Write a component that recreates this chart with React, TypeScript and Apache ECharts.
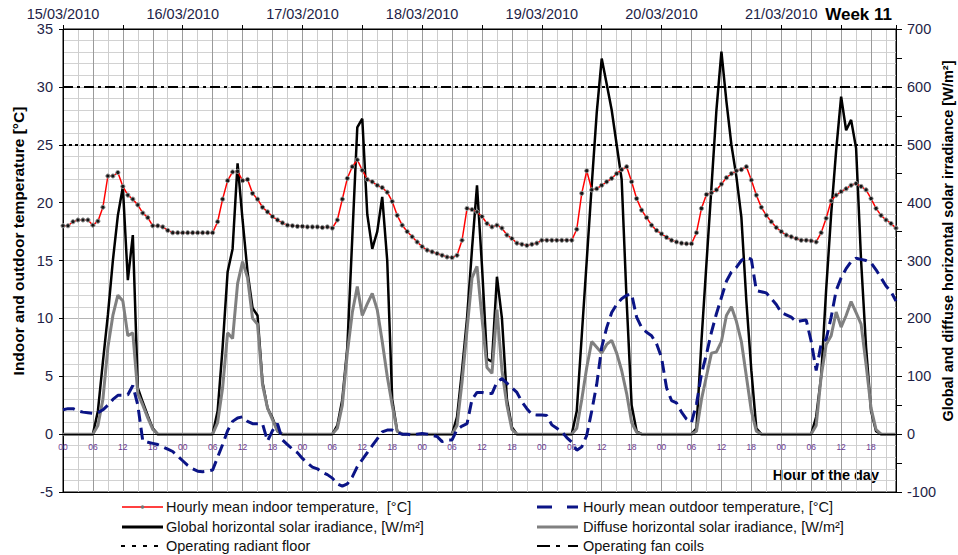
import React, { useEffect, useRef } from 'react';
import * as echarts from 'echarts';

// ---- Data (hourly values, index = hour since 15/03/2010 00:00) ----
const DATES = ['15/03/2010', '16/03/2010', '17/03/2010', '18/03/2010', '19/03/2010', '20/03/2010', '21/03/2010'];

const INDOOR_TEMP = [
  18.0, 18.0, 18.35, 18.5, 18.5, 18.5, 18.05, 18.4, 19.6, 22.3, 22.3, 22.6, 21.4, 20.65, 20.3, 19.8, 19.1, 18.7, 18.0, 18.0, 17.9, 17.6, 17.4, 17.4,
  17.4, 17.4, 17.4, 17.4, 17.4, 17.4, 17.4, 18.35, 20.3, 21.9, 22.65, 22.7, 21.9, 22.0, 20.8, 20.3, 19.6, 19.2, 18.8, 18.5, 18.25, 18.05, 18.0, 17.95,
  17.95, 17.9, 17.9, 17.9, 17.85, 17.9, 17.8, 18.5, 20.3, 22.1, 23.1, 23.7, 22.8, 22.0, 21.8, 21.5, 21.3, 20.9, 20.1, 18.9, 18.05, 17.5, 17.05, 16.6,
  16.2, 15.9, 15.75, 15.6, 15.45, 15.3, 15.25, 15.45, 16.75, 19.5, 19.4, 19.2, 18.8, 18.2, 17.9, 18.05, 17.8, 17.2, 16.9, 16.5, 16.4, 16.3, 16.4, 16.5,
  16.75, 16.75, 16.75, 16.75, 16.75, 16.75, 16.75, 17.7, 20.8, 22.75, 21.1, 21.2, 21.5, 21.8, 22.1, 22.5, 22.85, 23.1, 21.8, 20.35, 19.35, 18.7, 18.05, 17.6,
  17.3, 17.0, 16.75, 16.6, 16.5, 16.45, 16.45, 17.4, 19.5, 20.7, 20.85, 21.1, 21.6, 22.15, 22.5, 22.75, 22.85, 23.1, 21.95, 20.65, 19.6, 18.9, 18.35, 17.85,
  17.5, 17.2, 17.05, 16.9, 16.75, 16.75, 16.7, 16.6, 17.4, 18.65, 20.15, 20.65, 20.95, 21.2, 21.5, 21.65, 21.4, 21.1, 20.35, 19.5, 18.9, 18.5, 18.2, 17.8,
];

const OUTDOOR_TEMP = [
  2.1, 2.2, 2.2, 2.0, 1.9, 1.85, 1.8, 1.85, 2.1, 2.5, 3.0, 3.35, 3.35, 3.4, 4.2, 2.5, -0.6, -0.7, -0.8, -0.9, -1.1, -1.3, -1.5, -1.9,
  -2.3, -2.7, -3.0, -3.2, -3.25, -3.2, -3.1, -2.0, -0.9, 0.3, 1.1, 1.4, 1.5, 1.1, 0.9, 0.9, 0.9, -0.6, 0.3, 0.9, -0.5, -0.9, -1.3, -1.6,
  -2.1, -2.5, -2.85, -3.0, -3.3, -3.5, -3.8, -4.3, -4.5, -4.3, -3.7, -2.8, -2.2, -1.6, -1.0, -0.4, 0.2, 0.35, 0.35, 0.1, 0.0, 0.0, -0.1, 0.0,
  0.05, 0.0, -0.1, -0.2, -0.65, -0.5, -0.5, 0.4, 0.7, 0.9, 3.0, 3.6, 3.6, 3.5, 3.5, 4.5, 4.8, 4.4, 4.0, 3.6, 2.8, 2.2, 1.7, 1.65,
  1.65, 1.6, 0.8, 0.5, 0.2, -0.3, -0.7, -1.4, -1.1, -0.1, 2.0, 4.3, 7.5, 9.2, 10.5, 11.2, 11.7, 12.0, 12.1, 10.1, 9.2, 8.8, 8.5, 7.8,
  6.6, 4.0, 2.9, 2.7, 1.9, 1.3, 1.0, 2.6, 5.2, 6.9, 8.8, 10.4, 11.8, 13.2, 14.0, 14.4, 15.0, 15.3, 15.1, 12.4, 12.3, 12.2, 11.7, 11.2,
  10.5, 10.3, 10.1, 9.7, 9.8, 9.85, 8.0, 5.5, 7.8, 8.2, 10.1, 12.4, 13.5, 14.3, 14.9, 15.2, 15.1, 15.0, 14.8, 14.2, 13.5, 12.8, 12.3, 11.5,
];

const GLOBAL_IRR = [
  0, 0, 0, 0, 0, 0, 0, 40, 125, 206, 300, 378, 427, 266, 344, 80, 55, 32, 10, 0, 0, 0, 0, 0,
  0, 0, 0, 0, 0, 0, 0, 40, 150, 280, 320, 468, 370, 280, 218, 205, 90, 45, 28, 5, 0, 0, 0, 0,
  0, 0, 0, 0, 0, 0, 0, 15, 60, 150, 340, 530, 545, 380, 320, 350, 410, 300, 60, 5, 0, 0, 0, 0,
  0, 0, 0, 0, 0, 0, 0, 30, 110, 200, 320, 430, 290, 130, 125, 272, 200, 60, 12, 0, 0, 0, 0, 0,
  0, 0, 0, 0, 0, 0, 0, 40, 170, 300, 430, 555, 649, 605, 560, 500, 440, 230, 50, 5, 0, 0, 0, 0,
  0, 0, 0, 0, 0, 0, 0, 10, 161, 295, 426, 560, 661, 575, 500, 445, 375, 230, 110, 10, 0, 0, 0, 0,
  0, 0, 0, 0, 0, 0, 0, 30, 100, 250, 380, 490, 583, 525, 543, 494, 300, 150, 40, 5, 0, 0, 0, 0,
];

const DIFFUSE_IRR = [
  0, 0, 0, 0, 0, 0, 0, 15, 60, 150, 205, 240, 230, 170, 175, 70, 50, 28, 8, 0, 0, 0, 0, 0,
  0, 0, 0, 0, 0, 0, 0, 20, 80, 175, 165, 260, 298, 270, 200, 190, 85, 45, 25, 5, 0, 0, 0, 0,
  0, 0, 0, 0, 0, 0, 0, 10, 50, 140, 210, 255, 205, 225, 243, 215, 160, 100, 50, 5, 0, 0, 0, 0,
  0, 0, 0, 0, 0, 0, 0, 15, 90, 180, 270, 290, 200, 115, 105, 215, 110, 50, 8, 0, 0, 0, 0, 0,
  0, 0, 0, 0, 0, 0, 0, 10, 60, 115, 160, 150, 140, 155, 162, 140, 110, 70, 20, 3, 0, 0, 0, 0,
  0, 0, 0, 0, 0, 0, 0, 5, 60, 100, 140, 142, 160, 205, 220, 195, 160, 100, 40, 5, 0, 0, 0, 0,
  0, 0, 0, 0, 0, 0, 0, 15, 100, 155, 170, 211, 185, 205, 229, 210, 190, 120, 45, 8, 0, 0, 0, 0,
];

const RADIANT_FLOOR_LEVEL = 25;
const FAN_COIL_LEVEL = 30;

const TEMP_AXIS = { min: -5, max: 35, interval: 5 };
const IRR_AXIS = { min: -100, max: 700, interval: 100 };
const HOUR_AXIS = { min: 0, max: 167 };

const LEGEND_ROWS = [
  ['Hourly mean indoor temperature,  [°C]', 'Hourly mean outdoor temperature, [°C]'],
  ['Global horizontal solar iradiance, [W/m²]', 'Diffuse horizontal solar iradiance, [W/m²]'],
  ['Operating radiant floor', 'Operating fan coils'],
];

const FONT = '"Liberation Sans", Arial, sans-serif';
const NAVY = '#0b1486';

const pad2 = (n: number) => (n < 10 ? '0' + n : '' + n);
const toPairs = (arr: number[]) => arr.map((v, i) => [i, v]);

export default function App() {
  const ref = useRef<HTMLDivElement>(null);

  useEffect(() => {
    if (!ref.current) return;
    const chart = echarts.init(ref.current, undefined, { renderer: 'svg' });

    const legendY = [507, 527, 546];
    const colL = { x1: 122, x2: 163, tx: 166 };
    const colR = { x1: 537, x2: 578, tx: 583 };
    const legendText = (text: string, x: number, y: number) => ({
      type: 'text', x, y,
      style: { text, fontFamily: FONT, fontSize: 14.5, fill: '#111', textVerticalAlign: 'middle', textAlign: 'left' },
    });
    const legendLine = (x1: number, x2: number, y: number, stroke: string, lineWidth: number, lineDash?: number[]) => ({
      type: 'line',
      shape: { x1, y1: y, x2, y2: y },
      style: { stroke, lineWidth, lineDash },
    });

    const graphics: any[] = [
      // legend
      legendLine(colL.x1, colL.x2, legendY[0], '#ff0000', 1.5),
      { type: 'circle', shape: { cx: (colL.x1 + colL.x2) / 2, cy: legendY[0], r: 1.8 }, style: { fill: '#777' } },
      legendText(LEGEND_ROWS[0][0], colL.tx, legendY[0]),
      legendLine(colR.x1, colR.x2, legendY[0], NAVY, 3, [15, 15]),
      legendText(LEGEND_ROWS[0][1], colR.tx, legendY[0]),
      legendLine(colL.x1, colL.x2, legendY[1], '#000', 3),
      legendText(LEGEND_ROWS[1][0], colL.tx, legendY[1]),
      legendLine(colR.x1, colR.x2, legendY[1], '#808080', 3),
      legendText(LEGEND_ROWS[1][1], colR.tx, legendY[1]),
      legendLine(colL.x1 - 1, colL.x2 - 3, legendY[2], '#000', 2, [4, 7]),
      legendText(LEGEND_ROWS[2][0], colL.tx, legendY[2]),
      legendLine(colR.x1, colR.x2, legendY[2], '#000', 2, [13, 6, 4, 8]),
      legendText(LEGEND_ROWS[2][1], colR.tx, legendY[2]),
      // titles
      {
        type: 'text', x: 892, y: 14,
        style: { text: 'Week 11', fontFamily: FONT, fontSize: 17, fontWeight: 'bold', fill: '#000', textAlign: 'right', textVerticalAlign: 'middle' },
      },
      {
        type: 'text', x: 879, y: 475,
        style: { text: 'Hour of the day', fontFamily: FONT, fontSize: 14.5, fontWeight: 'bold', fill: '#000', textAlign: 'right', textVerticalAlign: 'middle' },
      },
      {
        type: 'text', x: 18, y: 241, rotation: Math.PI / 2,
        style: { text: 'Indoor and outdoor temperature [°C]', fontFamily: FONT, fontSize: 15.5, fontWeight: 'bold', fill: '#000', textAlign: 'center', textVerticalAlign: 'middle' },
      },
      {
        type: 'text', x: 948, y: 241, rotation: Math.PI / 2,
        style: { text: 'Global and diffuse horizontal solar irradiance [W/m²]', fontFamily: FONT, fontSize: 14.5, fontWeight: 'bold', fill: '#000', textAlign: 'center', textVerticalAlign: 'middle' },
      },
    ];

    chart.setOption({
      animation: false,
      backgroundColor: '#fff',
      textStyle: { fontFamily: FONT },
      grid: { left: 63, right: 62, top: 29, bottom: 63, show: true, borderColor: '#000', borderWidth: 1, backgroundColor: 'transparent' },
      xAxis: [
        {
          type: 'value', min: HOUR_AXIS.min, max: HOUR_AXIS.max, interval: 3, position: 'bottom',
          axisLine: { show: true, onZero: false, lineStyle: { color: '#000', width: 1 } },
          axisTick: { show: false },
          axisLabel: {
            fontSize: 8.5, color: '#6e3a92', margin: -50, fontFamily: FONT,
            formatter: (v: number) => (v % 6 === 0 ? pad2(v % 24) : ''),
          },
          splitLine: { show: true, lineStyle: { color: ['#9a9a9a', '#cdcdcd'], width: 1 } },
        },
        {
          type: 'value', min: HOUR_AXIS.min, max: HOUR_AXIS.max, interval: 12, position: 'top',
          axisLine: { show: true, onZero: false, lineStyle: { color: '#000', width: 1 } },
          axisTick: { show: true, length: 4, lineStyle: { color: '#000' } },
          axisLabel: {
            fontSize: 14.5, color: '#1e1e46', margin: 8, fontFamily: FONT,
            formatter: (v: number) => (v % 24 === 0 ? DATES[v / 24] ?? '' : ''),
          },
          splitLine: { show: false },
        },
      ],
      yAxis: [
        {
          type: 'value', min: TEMP_AXIS.min, max: TEMP_AXIS.max, interval: TEMP_AXIS.interval, position: 'left',
          axisLine: { show: true, onZero: false, lineStyle: { color: '#000', width: 1 } },
          axisTick: { show: true, length: 4, lineStyle: { color: '#000' } },
          axisLabel: { fontSize: 14.5, color: '#1e1e46', margin: 10, fontFamily: FONT },
          splitLine: { show: true, lineStyle: { color: '#b4b4b4', width: 1 } },
          minorTick: { show: false, splitNumber: 5 },
          minorSplitLine: { show: true, lineStyle: { color: '#d2d2d2', width: 1 } },
        },
        {
          type: 'value', min: IRR_AXIS.min, max: IRR_AXIS.max, interval: IRR_AXIS.interval, position: 'right',
          axisLine: { show: true, onZero: false, lineStyle: { color: '#000', width: 1 } },
          axisTick: { show: true, length: 6, lineStyle: { color: '#000' } },
          minorTick: { show: true, splitNumber: 2, length: 6, lineStyle: { color: '#000' } },
          axisLabel: { fontSize: 14.5, color: '#1e1e46', margin: 11, fontFamily: FONT },
          splitLine: { show: false },
        },
      ],
      series: [
        {
          name: 'Global horizontal solar iradiance, [W/m²]', type: 'line', xAxisIndex: 0, yAxisIndex: 1,
          data: toPairs(GLOBAL_IRR), symbol: 'none', z: 3,
          lineStyle: { color: '#000', width: 2.5 },
          markLine: {
            silent: true, symbol: 'none', label: { show: false },
            data: [{ name: 'zero', yAxis: 0, lineStyle: { color: '#000', width: 1, type: 'solid' } }],
          },
        },
        {
          name: 'Diffuse horizontal solar iradiance, [W/m²]', type: 'line', xAxisIndex: 0, yAxisIndex: 1,
          data: toPairs(DIFFUSE_IRR), symbol: 'none', z: 4,
          lineStyle: { color: '#808080', width: 3 },
        },
        {
          name: 'Hourly mean outdoor temperature, [°C]', type: 'line', xAxisIndex: 0, yAxisIndex: 0,
          data: toPairs(OUTDOOR_TEMP), symbol: 'none', z: 5,
          lineStyle: { color: NAVY, width: 3, type: [12, 6] },
        },
        {
          name: 'Hourly mean indoor temperature,  [°C]', type: 'line', xAxisIndex: 0, yAxisIndex: 0,
          data: toPairs(INDOOR_TEMP), symbol: 'circle', symbolSize: 4.2, z: 6,
          lineStyle: { color: '#ff0000', width: 1.5 },
          itemStyle: { color: '#151515', borderColor: '#9a9a9a', borderWidth: 1 },
          markLine: {
            silent: true, symbol: 'none', label: { show: false },
            data: [
              { name: 'Operating radiant floor', yAxis: RADIANT_FLOOR_LEVEL, lineStyle: { color: '#000', width: 2, type: [3, 3] } },
              { name: 'Operating fan coils', yAxis: FAN_COIL_LEVEL, lineStyle: { color: '#000', width: 2, type: [10, 4, 3, 4] } },
            ],
          },
        },
      ],
      graphic: graphics,
    });

    return () => chart.dispose();
  }, []);

  return <div ref={ref} style={{ position: 'fixed', left: 0, top: 0, width: 958, height: 555, background: '#fff' }} />;
}
